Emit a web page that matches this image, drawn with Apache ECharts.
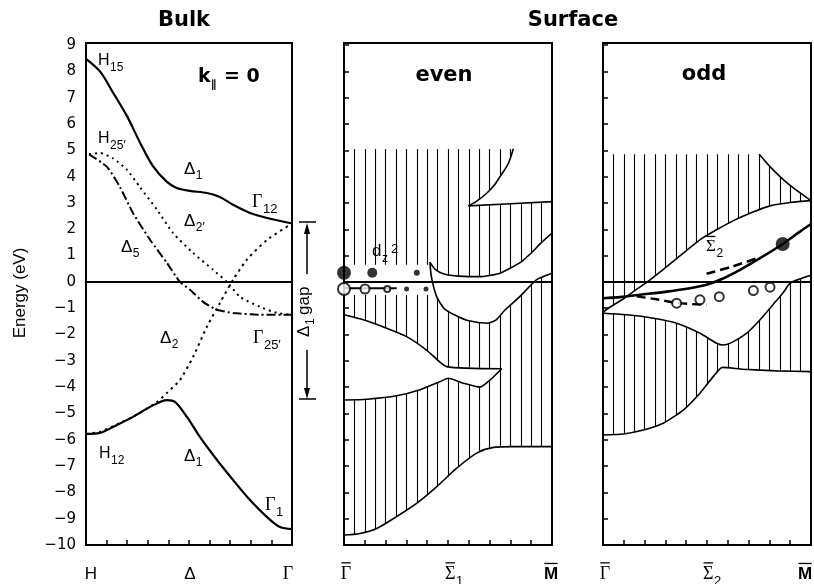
<!DOCTYPE html>
<html><head><meta charset="utf-8">
<script src="https://cdn.jsdelivr.net/npm/echarts/dist/echarts.min.js"></script>
<style>html,body{margin:0;padding:0;background:#fff}#c{width:814px;height:584px}</style>
</head><body><div id="c"></div>
<script>
// ---------------- DATA ----------------
// Bulk panel (x: 0 = H ... 10 = Gamma), energies in eV
const bulkD1Up  = [[0,8.48],[0.68,8.0],[1.31,7.2],[1.99,6.3],[2.62,5.3],[3.25,4.4],[3.93,3.8],[4.4,3.57],[5.05,3.46],[5.87,3.38],[6.5,3.23],[7.14,2.93],[7.96,2.62],[8.79,2.43],[10,2.22]];
const bulkD2p   = [[0.15,4.85],[0.68,4.9],[1.31,4.7],[1.99,4.26],[2.62,3.6],[3.45,2.74],[4.22,1.86],[5.2,1.1],[6.17,0.46],[6.84,0],[7.48,-0.57],[8.45,-0.95],[9.27,-1.18],[10,-1.25]];
const bulkD5    = [[0.15,4.85],[1.02,4.37],[1.65,3.6],[2.28,2.62],[3.11,1.6],[3.93,0.72],[4.56,0],[5.05,-0.3],[5.68,-0.76],[6.36,-1.06],[7.14,-1.18],[8.45,-1.25],[10,-1.25]];
const bulkD2    = [[0,-5.78],[0.68,-5.7],[1.65,-5.36],[2.62,-4.98],[3.45,-4.56],[3.93,-4.22],[4.56,-3.73],[5.2,-2.85],[5.87,-1.7],[6.5,-0.8],[7.14,0.08],[7.8,0.84],[8.79,1.6],[10,2.22]];
const bulkD1Low = [[0,-5.78],[0.68,-5.74],[1.5,-5.44],[2.28,-5.13],[3.11,-4.75],[3.93,-4.49],[4.32,-4.56],[4.9,-5.13],[5.53,-5.89],[6.36,-6.77],[7.14,-7.53],[7.96,-8.29],[8.79,-8.94],[9.42,-9.32],[10,-9.4]];
const zeroLine  = [[0,0],[10,0]];

// Surface, even symmetry: projected bulk band edges
const evenTop     = 5.05;
const evenGapTop  = 0.65;   // open edge of upper band near Gamma-bar
const evenGapBot  = -0.5;   // open edge of lower band near Gamma-bar
const evenC1      = [[5.98,2.89],[6.4,3.08],[6.86,3.37],[7.2,3.65],[7.5,4.0],[7.9,4.5],[8.14,5.06]];
const evenL       = [[5.98,2.89],[8,2.97],[10,3.05]];
const evenLensUp  = [[4.13,0.75],[4.35,0.5],[4.62,0.36],[5.0,0.26],[5.5,0.22],[6.5,0.2],[7.5,0.33],[8.5,0.75],[9.0,1.1],[9.5,1.5],[10,1.85]];
const evenLensLow = [[4.13,0.75],[4.2,0.2],[4.45,-0.55],[4.8,-1.0],[5.3,-1.25],[6.0,-1.48],[6.9,-1.57],[7.3,-1.45],[7.75,-1.06],[8.45,-0.56],[9.25,0.08],[10,0.33]];
const evenFishUp  = [[0,-1.25],[0.93,-1.44],[2.05,-1.76],[3.01,-2.08],[3.97,-2.59],[4.94,-3.22],[7.58,-3.3]];
const evenFishLow = [[0,-4.49],[1.09,-4.46],[2.53,-4.33],[3.65,-4.1],[4.62,-3.79],[5.01,-3.66],[5.74,-3.85],[6.54,-4.0],[7.02,-3.73],[7.58,-3.3]];
const evenBot     = [[0,-9.62],[0.77,-9.56],[1.57,-9.37],[2.53,-8.92],[3.49,-8.42],[4.46,-7.78],[5.42,-7.08],[6.38,-6.51],[7.18,-6.29],[8.14,-6.26],[10,-6.26]];
// even surface states (x, E, marker size)
const evenFilled  = [[0,0.35,14],[1.36,0.35,10],[3.5,0.35,6]];
const evenOpen    = [[0,-0.27,12],[1.01,-0.27,9],[2.08,-0.27,6]];
const evenDots    = [[3.01,-0.27,5],[3.94,-0.27,5]];
const evenState   = [[0,-0.24],[2.53,-0.24]];

// Surface, odd symmetry
const oddTop = 4.85;
const oddR1  = [[7.51,4.85],[8.03,4.38],[8.51,4.0],[9.07,3.62],[10,3.09]];
const oddR2  = [[0,-1.17],[0.18,-1.04],[1.02,-0.62],[1.46,-0.37],[2.26,0.08],[3.06,0.58],[3.86,1.09],[4.66,1.6],[5.46,1.98],[6.27,2.33],[7.07,2.61],[8.03,2.89],[8.99,3.02],[10,3.09]];
const oddR3  = [[0,-1.19],[1.14,-1.25],[2.42,-1.38],[3.54,-1.57],[4.66,-1.95],[5.46,-2.33],[5.79,-2.4],[6.27,-2.27],[6.91,-1.95],[7.55,-1.44],[8.19,-0.85],[8.67,-0.4],[9.0,-0.05],[9.5,0.12],[10,0.25]];
const oddR4  = [[0,-5.82],[0.98,-5.78],[1.94,-5.63],[2.9,-5.37],[3.86,-4.87],[4.66,-4.23],[5.3,-3.6],[5.74,-3.25],[6.75,-3.32],[8.35,-3.38],[10,-3.41]];
const oddSolid   = [[0,-0.62],[0.82,-0.58],[1.78,-0.49],[3.06,-0.37],[4.18,-0.24],[4.98,-0.11],[5.63,0.08],[6.59,0.46],[7.55,0.9],[8.64,1.44],[9.47,1.91],[10,2.2]];
const oddDashUp  = [[4.98,0.31],[6.2,0.58],[7.55,0.94]];
const oddDashLow = [[1.62,-0.55],[2.58,-0.66],[3.54,-0.8],[4.98,-0.87]];
const oddOpen    = [[3.54,-0.81,9],[4.66,-0.68,9],[5.59,-0.56,9],[7.23,-0.33,9],[8.03,-0.2,9]];
const oddFilled  = [[8.64,1.44,14]];

const yTickLabels = [-10,-9,-8,-7,-6,-5,-4,-3,-2,-1,0,1,2,3,4,5,6,7,8,9];

// ---------------- HELPERS ----------------
function interp(poly, x){
  for (let i=0;i<poly.length-1;i++){
    const [x0,y0]=poly[i],[x1,y1]=poly[i+1];
    if (x>=x0 && x<=x1) return y0+(y1-y0)*(x-x0)/(x1-x0);
  }
  return x<poly[0][0]?poly[0][1]:poly[poly.length-1][1];
}
function hatchEven(){
  const segs=[]; const seg=(x,a,b)=>segs.push({coords:[[x,a],[x,b]]});
  for (let k=1;k<20;k++){
    const x=k*0.5;
    const botA = x<evenLensUp[0][0] ? evenGapTop : interp(evenLensUp,x);
    const c0 = evenC1[0][0], c1 = evenC1[evenC1.length-1][0];
    if (x<=c0) seg(x,evenTop,botA);
    else if (x<c1){ seg(x,evenTop,interp(evenC1,x)); seg(x,interp(evenL,x),botA); }
    else seg(x,interp(evenL,x),botA);
    const topB = x<evenLensLow[0][0] ? evenGapBot : interp(evenLensLow,x);
    const fEnd = evenFishUp[evenFishUp.length-1][0];
    if (x<fEnd){ seg(x,topB,interp(evenFishUp,x)); seg(x,interp(evenFishLow,x),interp(evenBot,x)); }
    else seg(x,topB,interp(evenBot,x));
  }
  return segs;
}
function hatchOdd(){
  const segs=[]; const seg=(x,a,b)=>segs.push({coords:[[x,a],[x,b]]});
  for (let k=1;k<20;k++){
    const x=k*0.5;
    const top = x<oddR1[0][0] ? oddTop : interp(oddR1,x);
    seg(x,top,interp(oddR2,x));
    seg(x,interp(oddR3,x),interp(oddR4,x));
  }
  return segs;
}
function ln(g, data, width, type, smooth, z){
  return {type:'line', xAxisIndex:g, yAxisIndex:g, data, symbol:'none', smooth:smooth===undefined?0.3:smooth,
    lineStyle:{color:'#000', width, type:type||'solid', cap:'butt'}, z:z||3, silent:true, clip:false};
}
function sc(g, data, open, z){
  return {type:'scatter', xAxisIndex:g, yAxisIndex:g, data, symbol:'circle', symbolSize:d=>d[2], clip:false,
    itemStyle: open?{color:'#fff',borderColor:'#000',borderWidth:2}:{color:'#000'}, z:z||6, silent:true};
}
function hatch(g, segs){
  return {type:'lines', coordinateSystem:'cartesian2d', xAxisIndex:g, yAxisIndex:g, polyline:false,
    data:segs, lineStyle:{color:'#000', width:1.1, opacity:1}, z:1, silent:true};
}
const mc=document.createElement('canvas').getContext('2d');
function tw(font,s){mc.font=font;return mc.measureText(s).width;}
const SANS='"Liberation Sans", Arial, sans-serif', SERIF='"Liberation Serif", "Times New Roman", serif', DJ='"DejaVu Sans", sans-serif';
function lab(x,y,main,sub,o){
  o=o||{};
  const size=o.size||16, f=(o.weight||'normal')+' '+size+'px '+(o.fam||SANS);
  const ss=o.subSize||Math.round(size*0.72), fs='normal '+ss+'px '+SANS;
  const w=tw(f,main);
  const els=[{type:'text',x,y,style:{text:main,font:f,fill:'#000',verticalAlign:'middle',align:'left'},z:10}];
  if(sub) els.push({type:'text',x:x+w+(o.gap||0.5),y:y+size*0.4,style:{text:sub,font:fs,fill:'#000',verticalAlign:'middle',align:'left'},z:10});
  if(o.bar) els.push({type:'line',shape:{x1:x+0.5,y1:y-size*0.62,x2:x+w-0.5,y2:y-size*0.62},style:{stroke:'#000',lineWidth:1.3},z:10});
  return els;
}
function ctext(x,y,t,font,rot){
  return {type:'text',x,y,rotation:rot||0,style:{text:t,font,fill:'#000',align:'center',verticalAlign:'middle'},z:10};
}
function cbar(x,y,t,font,size){
  const w=tw(font,t);
  return [ctext(x,y,t,font),{type:'line',shape:{x1:x-w/2+0.5,y1:y-size*0.62,x2:x+w/2-0.5,y2:y-size*0.62},style:{stroke:'#000',lineWidth:1.3},z:10}];
}

// ---------------- AXES ----------------
const grids=[{left:86,top:43,width:206,height:502},{left:344,top:43,width:208,height:502},{left:603,top:43,width:208,height:502}]
  .map(g=>Object.assign(g,{show:true,borderColor:'#000',borderWidth:2,backgroundColor:'transparent',outerBoundsMode:'none'}));
const HIDDEN='rgba(0,0,0,0)';
function xa(i){return {type:'value',gridIndex:i,min:0,max:10,interval:1,position:'bottom',
  axisLine:{show:true,onZero:false,lineStyle:{color:'#000',width:2}},
  axisTick:{show:true,inside:true,length:5,lineStyle:{color:'#000',width:1.5}},
  axisLabel:{show:false},splitLine:{show:false}};}
function ya(i,labels,ticks){return {type:'value',gridIndex:i,min:-10,max:9.08,interval:1,position:'left',
  axisLine:{show:true,onZero:false,lineStyle:{color:'#000',width:2}},
  axisTick:{show:ticks,inside:true,length:5,lineStyle:{color:'#000',width:1.5}},
  axisLabel:{show:true,margin:10,color:labels?'#000':HIDDEN,fontFamily:'DejaVu Sans',fontSize:15,hideOverlap:false,
    formatter:v=>{const r=Math.round(v); if(Math.abs(v-r)>1e-6||yTickLabels.indexOf(r)<0) return ''; return r<0?'\u2212'+(-r):String(r);}},
  splitLine:{show:false}};}

// ---------------- TEXT ----------------
const G=[];
G.push(ctext(184,21,'Bulk','bold 21px '+DJ));
G.push(ctext(573,21,'Surface','bold 21px '+DJ));
G.push(ctext(444,76,'even','bold 21px '+DJ));
G.push(ctext(704,75,'odd','bold 21px '+DJ));
G.push(ctext(20,293,'Energy (eV)','17px '+SANS,Math.PI/2));
G.push({type:'text',x:198,y:77,style:{text:'k',font:'bold 19px '+DJ,fill:'#000',verticalAlign:'middle'},z:10});
G.push({type:'text',x:211,y:85,style:{text:'\u2225',font:'bold 11px '+DJ,fill:'#000',verticalAlign:'middle'},z:10});
G.push({type:'text',x:224,y:77,style:{text:'= 0',font:'bold 19px '+DJ,fill:'#000',verticalAlign:'middle'},z:10});
G.push(...lab(98,61,'H','15'));
G.push(...lab(98,139,'H','25\u2032'));
G.push(...lab(184,169,'\u0394','1',{size:17}));
G.push(...lab(252,202,'\u0393','12',{fam:SERIF,size:18}));
G.push(...lab(184,221,'\u0394','2\u2032',{size:17}));
G.push(...lab(121,247,'\u0394','5',{size:17}));
G.push(...lab(160,338,'\u0394','2',{size:17}));
G.push(...lab(253,338,'\u0393','25\u2032',{fam:SERIF,size:18}));
G.push(...lab(99,454,'H','12'));
G.push(...lab(184,456,'\u0394','1',{size:17}));
G.push(...lab(265,505,'\u0393','1',{fam:SERIF,size:18}));
G.push({type:'text',x:372,y:251,style:{text:'d',font:'17px '+SANS,fill:'#000',verticalAlign:'middle'},z:10});
G.push({type:'text',x:382,y:259,style:{text:'z',font:'12px '+SANS,fill:'#000',verticalAlign:'middle'},z:10});
G.push({type:'text',x:391,y:249,style:{text:'2',font:'13px '+SANS,fill:'#000',verticalAlign:'middle'},z:10});
G.push(...lab(706,247,'\u03A3','2',{fam:SERIF,size:17,bar:true}));
const BY=574;
G.push(ctext(91,BY,'H','17px '+SANS));
G.push(ctext(190,BY,'\u0394','17px '+SANS));
G.push(ctext(288,BY,'\u0393','18px '+SERIF));
G.push(...cbar(346,BY,'\u0393','18px '+SERIF,18));
G.push(...lab(445,BY,'\u03A3','1',{fam:SERIF,size:18,bar:true}));
G.push(...cbar(551,BY,'M','bold 17px '+SANS,17));
G.push(...cbar(605,BY,'\u0393','18px '+SERIF,18));
G.push(...lab(703,BY,'\u03A3','2',{fam:SERIF,size:18,bar:true}));
G.push(...cbar(805,BY,'M','bold 17px '+SANS,17));
const LS={stroke:'#000',lineWidth:1.5};
G.push({type:'line',shape:{x1:299,y1:222,x2:316,y2:222},style:LS});
G.push({type:'line',shape:{x1:299,y1:399,x2:316,y2:399},style:LS});
G.push({type:'line',shape:{x1:307,y1:274,x2:307,y2:230},style:LS});
G.push({type:'polygon',shape:{points:[[307,223],[304,234],[310,234]]},style:{fill:'#000'}});
G.push({type:'line',shape:{x1:307,y1:350,x2:307,y2:392},style:LS});
G.push({type:'polygon',shape:{points:[[307,399],[304,388],[310,388]]},style:{fill:'#000'}});
G.push({type:'group',x:304,y:337,rotation:Math.PI/2,children:[
  {type:'text',x:0,y:0,style:{text:'\u0394',font:'17px '+SANS,fill:'#000',verticalAlign:'middle'}},
  {type:'text',x:12,y:7,style:{text:'1',font:'12px '+SANS,fill:'#000',verticalAlign:'middle'}},
  {type:'text',x:22,y:0,style:{text:'gap',font:'17px '+SANS,fill:'#000',verticalAlign:'middle'}}
]});

// ---------------- CHART ----------------
const chart=echarts.init(document.getElementById('c'),null,{renderer:'canvas'});
chart.setOption({
  animation:false, backgroundColor:'#fff',
  grid:grids,
  xAxis:[xa(0),xa(1),xa(2)],
  yAxis:[ya(0,true,false),ya(1,false,true),ya(2,false,true)],
  series:[
    ln(0,bulkD1Up,2.2),
    ln(0,bulkD2p,2,[2,4],0.2),
    ln(0,bulkD5,2,[9,3,2,3],0.2),
    ln(0,bulkD2,2,[2.5,4],0.2),
    ln(0,bulkD1Low,2.2),
    ln(0,zeroLine,2,'solid',false),

    hatch(1,hatchEven()),
    ln(1,evenC1,1.6),
    ln(1,evenL,1.6,'solid',false),
    ln(1,evenLensUp,1.6,'solid',0.2),
    ln(1,evenLensLow,1.6,'solid',0.2),
    ln(1,evenFishUp,1.6,'solid',0.2),
    ln(1,evenFishLow,1.6,'solid',0.2),
    ln(1,evenBot,1.6),
    ln(1,zeroLine,2,'solid',false),
    ln(1,evenState,2,'solid',false,4),
    sc(1,evenFilled,false),
    sc(1,evenOpen,true),
    sc(1,evenDots,false),

    hatch(2,hatchOdd()),
    ln(2,oddR1,1.6),
    ln(2,oddR2,1.6),
    ln(2,oddR3,1.6),
    ln(2,oddR4,1.6,'solid',0.2),
    ln(2,zeroLine,2,'solid',false),
    ln(2,oddSolid,2.6,'solid',0.3,4),
    ln(2,oddDashUp,2.6,[9,5],0.3,4),
    ln(2,oddDashLow,2.4,[9,5],0.3,4),
    sc(2,oddOpen,true),
    sc(2,oddFilled,false)
  ],
  graphic:G
});
</script></body></html>
